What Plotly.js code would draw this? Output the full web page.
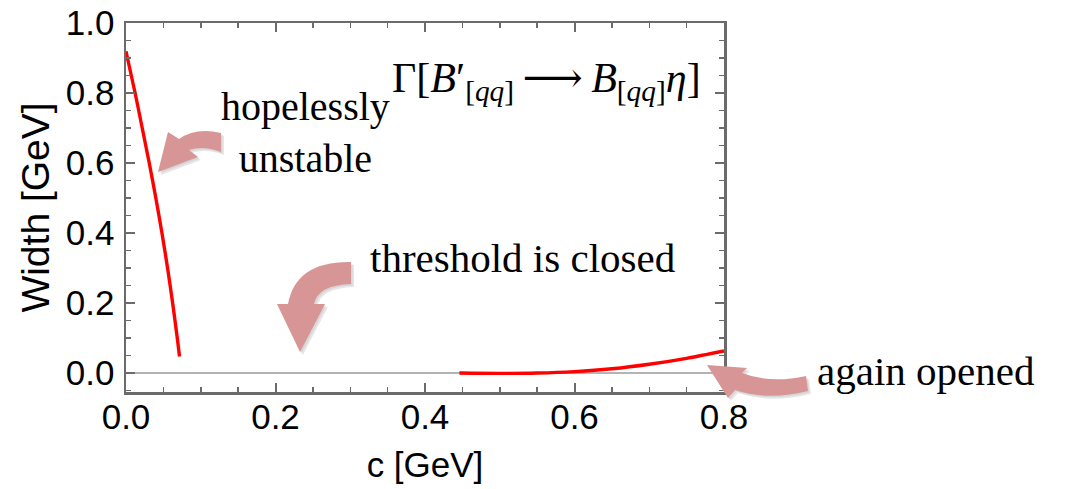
<!DOCTYPE html>
<html>
<head>
<meta charset="utf-8">
<script src="https://cdn.plot.ly/plotly-3.0.1.min.js"></script>
<style>html,body{margin:0;padding:0;background:#fff;}#chart{width:1069px;height:489px;}</style>
</head>
<body>
<div id="chart"></div>
<script>
// ---- data ----
const cBranch1 = [0.0, 0.0122, 0.0217, 0.0264, 0.0311, 0.0399, 0.0481, 0.0556, 0.0624, 0.0686, 0.0716];
const wBranch1 = [0.919, 0.80, 0.70, 0.65, 0.60, 0.50, 0.40, 0.30, 0.20, 0.10, 0.047];
const cBranch2 = [0.446, 0.50, 0.55, 0.60, 0.65, 0.70, 0.75, 0.80];
const wBranch2 = [0.000, -0.001, 0.000, 0.004, 0.012, 0.025, 0.042, 0.063];
const xTickVals = [0.0, 0.2, 0.4, 0.6, 0.8];
const yTickVals = [0.0, 0.2, 0.4, 0.6, 0.8, 1.0];
const titleText = "Γ[<i>B</i>′<sub>[<i>qq</i>]</sub>\u2009⟶\u2009<i>B</i><sub>[<i>qq</i>]</sub><i>η</i>]";
const noteTexts = ["hopelessly<br>unstable", "threshold is closed", "again opened"];

// ---- layout geometry ----
const W = 1069, H = 489;
const M = {l: 126, r: 345, t: 23, b: 97};
const PW = W - M.l - M.r, PH = H - M.t - M.b;
function px(x){ return ((x - M.l) / PW).toFixed(5); }
function py(y){ return ((H - M.b - y) / PH).toFixed(5); }
function pathFrom(pts){
  return pts.map(p => {
    const cmd = p[0]; const nums = [];
    for (let i = 1; i < p.length; i += 2) nums.push(px(p[i]) + "," + py(p[i+1]));
    return cmd + " " + nums.join(" ");
  }).join(" ") + " Z";
}
const arrowColor = "#d89596";
const arrows = [
  // hopelessly unstable
  [["M",221,133],["Q",196,127,179,139],["L",168,132],["L",158,172],["L",198,157],["L",189,150],["Q",203,145,221,152]],
  // threshold is closed
  [["M",351,262],["Q",296,261,288,304],["L",277,304],["L",300,352],["L",325,304],["L",314,304],["Q",318,285,351,284]],
  // again opened
  [["M",806,376],["Q",770,384,742,373],["L",747,368],["L",707,365],["L",728,398],["L",735,390],["Q",768,401,808,391]]
];
function shift(a, d){ return a.map(p => { const q=[p[0]]; for(let i=1;i<p.length;i+=2){q.push(p[i]+d, p[i+1]+d);} return q; }); }
const shapes = [];
arrows.forEach(a => {
  shapes.push({type:"path", xref:"paper", yref:"paper", path: pathFrom(shift(a,3)), fillcolor:"rgba(120,120,120,0.18)", line:{width:0}, layer:"above"});
  shapes.push({type:"path", xref:"paper", yref:"paper", path: pathFrom(shift(a,1.5)), fillcolor:"rgba(120,120,120,0.15)", line:{width:0}, layer:"above"});
  shapes.push({type:"path", xref:"paper", yref:"paper", path: pathFrom(a), fillcolor:arrowColor, line:{width:0}, layer:"above"});
});

const serif = "Liberation Serif, DejaVu Serif, Times New Roman, serif";
const sans = "Liberation Sans, Arial, sans-serif";
const axisColor = "#6b6b6b";

const traces = [
  {x: cBranch1, y: wBranch1, type:"scatter", mode:"lines", line:{color:"#ff0000", width:3.4, shape:"spline", smoothing:0.8}, hoverinfo:"skip"},
  {x: cBranch2, y: wBranch2, type:"scatter", mode:"lines", line:{color:"#ff0000", width:3.4, shape:"spline", smoothing:0.8}, hoverinfo:"skip"}
];

const layout = {
  width: W, height: H,
  margin: M,
  showlegend: false,
  paper_bgcolor: "#ffffff", plot_bgcolor: "#ffffff",
  xaxis: {
    range: [0, 0.8], tickvals: xTickVals, tickformat: ".1f",
    showline: true, linecolor: axisColor, linewidth: 2.5, mirror: "allticks",
    ticks: "inside", ticklen: 9, tickwidth: 2, tickcolor: axisColor,
    minor: {dtick: 0.05, tick0: 0, ticks: "inside", ticklen: 5, tickwidth: 1.5, tickcolor: axisColor, showgrid: false},
    showgrid: false, zeroline: false,
    tickfont: {family: sans, size: 35, color: "#000"},
    ticklabelstandoff: -8,
    title: {text: "c [GeV]", font: {family: sans, size: 35, color: "#000"}, standoff: 18}
  },
  yaxis: {
    range: [-0.0543, 1.0], tickvals: yTickVals, tickformat: ".1f",
    showline: true, linecolor: axisColor, linewidth: 2.5, mirror: "allticks",
    ticks: "inside", ticklen: 9, tickwidth: 2, tickcolor: axisColor,
    minor: {dtick: 0.05, tick0: 0, ticks: "inside", ticklen: 5, tickwidth: 1.5, tickcolor: axisColor, showgrid: false},
    showgrid: false, zeroline: true, zerolinecolor: "#b4b4b4", zerolinewidth: 1.5,
    tickfont: {family: sans, size: 35, color: "#000"},
    ticklabelstandoff: 2,
    title: {text: "Width [GeV]", font: {family: sans, size: 39, color: "#000"}, standoff: 4}
  },
  annotations: [
    {text: titleText, xref:"paper", yref:"paper", x: px(547), y: py(81), xanchor:"center", yanchor:"middle", showarrow:false, font:{family: serif, size: 42, color:"#000"}},
    {text: noteTexts[0], xref:"paper", yref:"paper", x: px(306), y: py(133), xanchor:"center", yanchor:"middle", showarrow:false, font:{family: serif, size: 40, color:"#000"}},
    {text: noteTexts[1], xref:"paper", yref:"paper", x: px(522), y: py(258), xanchor:"center", yanchor:"middle", showarrow:false, font:{family: serif, size: 41, color:"#000"}},
    {text: noteTexts[2], xref:"paper", yref:"paper", x: px(926), y: py(371), xanchor:"center", yanchor:"middle", showarrow:false, font:{family: serif, size: 41, color:"#000"}}
  ],
  shapes: shapes
};

Plotly.newPlot("chart", traces, layout, {displayModeBar: false, staticPlot: true});
</script>
</body>
</html>
